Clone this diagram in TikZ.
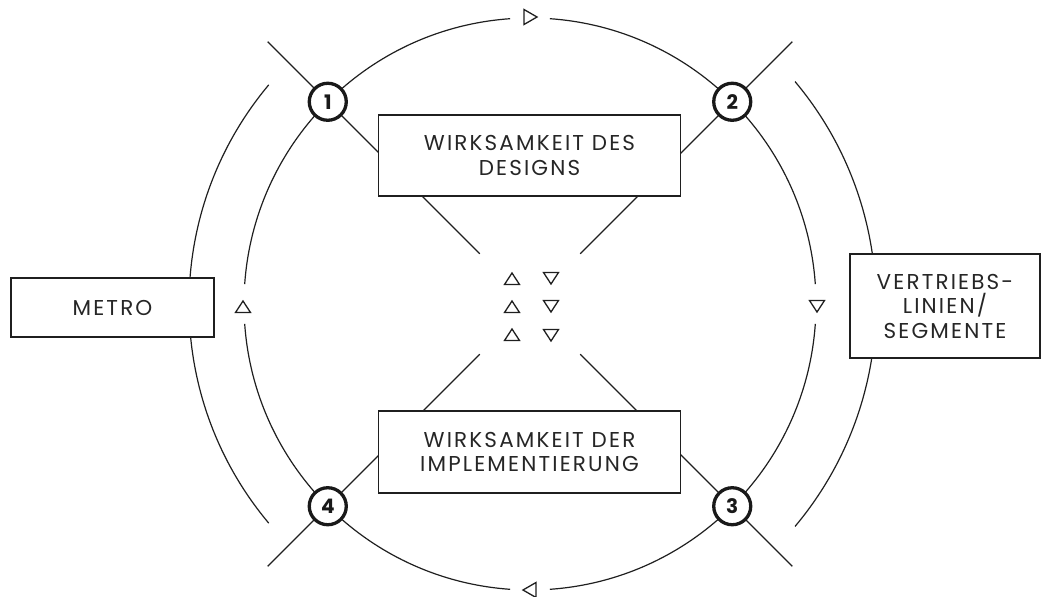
\documentclass[tikz,border=0pt]{standalone}
\usepackage{fontspec}
\setmainfont{Poppins}
\newfontfamily\boxfont{Poppins}[LetterSpace=10]
\usetikzlibrary{calc}
\begin{document}
\begin{tikzpicture}[x=1pt,y=-1pt,
  thinline/.style={line width=1.2pt, draw=black!88},
  box/.style={draw=black!88, line width=1.4pt, fill=white, inner sep=0pt, align=center,
    font=\boxfont\fontsize{21.5}{24.5}\selectfont, text=black!85},
  num/.style={circle, draw=black!90, line width=3.3pt, fill=white, minimum size=37pt,
    inner sep=0pt, font=\bfseries\fontsize{20}{20}\selectfont, text=black!90},
  tri/.style={line width=1.3pt, draw=black!88, line join=miter},
  tri up/.pic={\draw[tri] (-7.5,5.5) -- (7.5,5.5) -- (0,-6) -- cycle;},
  tri down/.pic={\draw[tri] (-7.5,-5.5) -- (7.5,-5.5) -- (0,6) -- cycle;},
  tri right/.pic={\draw[tri] (-6,-7.5) -- (-6,7.5) -- (7,0) -- cycle;},
  tri left/.pic={\draw[tri] (6,-7.5) -- (6,7.5) -- (-7,0) -- cycle;}
]
\useasboundingbox (0,0) rectangle (1042,597);
\coordinate (C) at (530,304);

% diagonal lines
\path (C) ++(225:371) coordinate (o1);
\path (C) ++(225:71) coordinate (i1);
\path (C) ++(315:371) coordinate (o2);
\path (C) ++(315:71) coordinate (i2);
\path (C) ++(45:371) coordinate (o3);
\path (C) ++(45:71) coordinate (i3);
\path (C) ++(135:371) coordinate (o4);
\path (C) ++(135:71) coordinate (i4);
\foreach \k in {1,2,3,4} \draw[thinline] (o\k) -- (i\k);

% main circle with gaps
\foreach \a in {4,94,184,274}
  \draw[thinline] (C) ++(\a:286) arc[start angle=\a, end angle=\a+82, radius=286];

% outer arcs
\draw[thinline] (C) ++(140:341) arc[start angle=140, end angle=220, radius=341];
\draw[thinline] (C) ++(-40:346) arc[start angle=-40, end angle=40, radius=346];

% boxes
\node[box, minimum width=302pt, minimum height=81pt] (design) at (529.5,155.5)
  {WIRKSAMKEIT DES\\DESIGNS};
\node[box, minimum width=302pt, minimum height=82pt] (impl) at (529.5,452)
  {WIRKSAMKEIT DER\\IMPLEMENTIERUNG};
\node[box, minimum width=203pt, minimum height=59pt] (metro) at (112.5,307.5)
  {METRO};
\node[box, minimum width=190pt, minimum height=104pt] (vertrieb) at (945,306)
  {VERTRIEBS-\\LINIEN/\\SEGMENTE};

% numbered circles
\node[num] (n1) at ($(C)+(225:286)$) {1};
\node[num] (n2) at ($(C)+(315:286)$) {2};
\node[num] (n3) at ($(C)+(45:286)$) {3};
\node[num] (n4) at ($(C)+(135:286)$) {4};

% triangles
\foreach \y in {279,307,335} \pic at (512,\y) {tri up};
\foreach \y in {278,306,335} \pic at (551,\y) {tri down};
\pic at (243,307) {tri up};
\pic at (817,306) {tri down};
\pic at (530,17) {tri right};
\pic at (530,590) {tri left};
\end{tikzpicture}
\end{document}
